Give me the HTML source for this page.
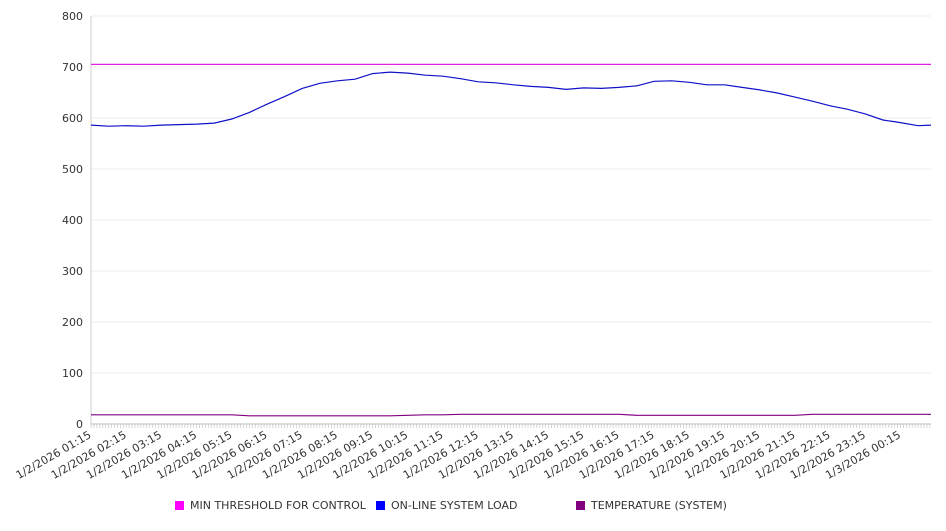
<!DOCTYPE html>
<html><head><meta charset="utf-8"><style>
body{margin:0;background:#fff;}
svg text{font-family:"DejaVu Sans","Liberation Sans",sans-serif;font-size:11px;fill:#333;}
</style></head><body>
<svg id="chart" width="946" height="526" xmlns="http://www.w3.org/2000/svg"></svg>
<script>
const yTicks=[0,100,200,300,400,500,600,700,800];
const xLabels=["1/2/2026 01:15","1/2/2026 02:15","1/2/2026 03:15","1/2/2026 04:15","1/2/2026 05:15","1/2/2026 06:15","1/2/2026 07:15","1/2/2026 08:15","1/2/2026 09:15","1/2/2026 10:15","1/2/2026 11:15","1/2/2026 12:15","1/2/2026 13:15","1/2/2026 14:15","1/2/2026 15:15","1/2/2026 16:15","1/2/2026 17:15","1/2/2026 18:15","1/2/2026 19:15","1/2/2026 20:15","1/2/2026 21:15","1/2/2026 22:15","1/2/2026 23:15","1/3/2026 00:15"];
// minutes since 1/2/2026 01:15
const timesMin=[0,30,60,90,120,150,180,210,240,270,300,330,360,390,420,450,480,510,540,570,600,630,660,690,720,750,780,810,840,870,900,930,960,990,1020,1050,1080,1110,1140,1170,1200,1230,1260,1290,1320,1350,1380,1410,1432];
const loadVals=[586,584,585,584,586,587,588,590,598,611,627,642,658,668,673,676,687,690,688,684,682,677,671,669,665,662,660,656,659,658,660,663,672,673,670,665,665,660,655,649,641,633,624,617,608,596,591,585,586];
const tempVals=[18,18,18,18,18,18,18,18,18,16,16,16,16,16,16,16,16,16,17,18,18,19,19,19,19,19,19,19,19,19,19,17,17,17,17,17,17,17,17,17,17,19,19,19,19,19,19,19,19];
const thresholdVals=[705,705];
const thresholdTimes=[0,1432];

const svg=document.getElementById('chart');
const NS='http://www.w3.org/2000/svg';
const X0=91,X1=931,Y0=424,Y1=16,TMAX=1432;
const xs=t=>X0+t/TMAX*(X1-X0);
const ys=v=>Y0-v/800*(Y0-Y1);
function el(tag,attrs,parent){const e=document.createElementNS(NS,tag);for(const k in attrs)e.setAttribute(k,attrs[k]);(parent||svg).appendChild(e);return e;}

const grid=el('g',{});


yTicks.forEach(v=>{
  const l=el('line',{x1:X0,x2:X1,y1:ys(v),y2:ys(v),stroke:'#ececec','stroke-width':1},grid);
  
  
  const t=el('text',{x:X0-8,y:ys(v)+4,'text-anchor':'end'});
  t.textContent=v;
  
  
});
const yAxis=el('line',{x1:X0,x2:X0,y1:Y1,y2:Y0,stroke:'#ccc'});


const xAxis=el('line',{x1:X0,x2:X1,y1:Y0,y2:Y0,stroke:'#bbb'});


const minor=el('g',{});


for(let m=0;m<=TMAX;m+=5){el('line',{x1:xs(m),x2:xs(m),y1:Y0,y2:Y0+4,stroke:'#ccc','stroke-width':0.8},minor);}
xLabels.forEach((s,i)=>{
  const x=xs(i*60)+1,y=Y0+13;
  const t=el('text',{x:x,y:y,'text-anchor':'end',transform:`rotate(-30 ${x} ${y})`});
  t.textContent=s;
  
  
});
function series(times,vals,color,name){
  const d=times.map((t,i)=>(i?'L':'M')+xs(t).toFixed(1)+' '+ys(vals[i]).toFixed(1)).join(' ');
  const p=el('path',{d:d,fill:'none',stroke:color,'stroke-width':1.2});
  
  
}
series(thresholdTimes,thresholdVals,'#e020e0','min-threshold-line');
series(timesMin,loadVals,'#1010c8','online-system-load-line');
series(timesMin,tempVals,'#800080','temperature-line');

const legend=[[175,'#ff00ff','MIN THRESHOLD FOR CONTROL','legend-min-threshold'],[376,'#0000ff','ON-LINE SYSTEM LOAD','legend-online-load'],[576,'#800080','TEMPERATURE (SYSTEM)','legend-temperature']];
legend.forEach(([x,c,s,n])=>{
  const g=el('g',{});
  
  
  el('rect',{x:x,y:501,width:9,height:9,fill:c},g);
  const t=el('text',{x:x+15,y:509},g);t.textContent=s;
});
</script>
</body></html>
